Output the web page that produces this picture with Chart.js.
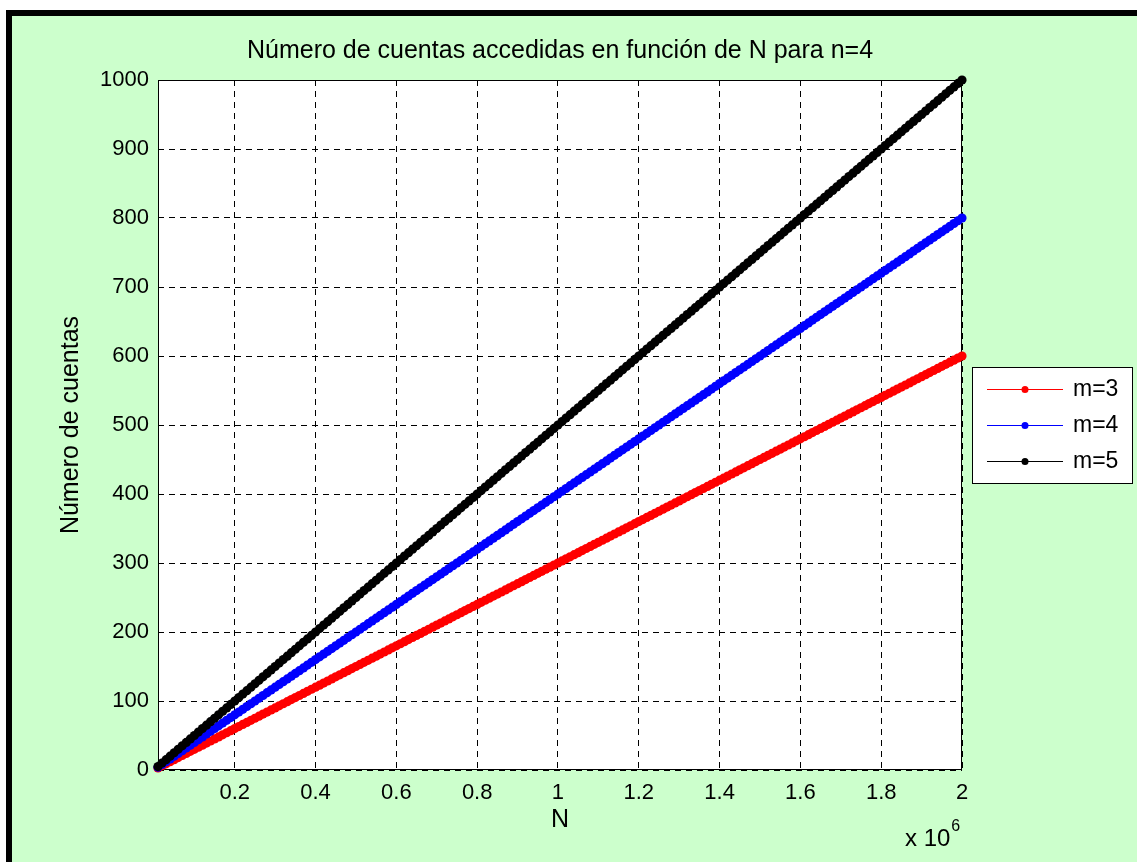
<!DOCTYPE html>
<html>
<head>
<meta charset="utf-8">
<script src="https://cdn.jsdelivr.net/npm/chart.js@4/dist/chart.umd.min.js"></script>
<style>
  html, body { margin: 0; padding: 0; background: #fff; }
  #wrap { position: absolute; left: 0; top: 0; width: 1137px; height: 862px; }
</style>
</head>
<body>
<div id="wrap"><canvas id="c" width="1137" height="862"></canvas></div>
<script>
// N in millions (axis carries the "x 10^6" multiplier)
const nValues = [
  0.01,0.02,0.03,0.04,0.05,0.06,0.07,0.08,0.09,0.10,0.11,0.12,0.13,0.14,0.15,0.16,0.17,0.18,0.19,0.20,
  0.21,0.22,0.23,0.24,0.25,0.26,0.27,0.28,0.29,0.30,0.31,0.32,0.33,0.34,0.35,0.36,0.37,0.38,0.39,0.40,
  0.41,0.42,0.43,0.44,0.45,0.46,0.47,0.48,0.49,0.50,0.51,0.52,0.53,0.54,0.55,0.56,0.57,0.58,0.59,0.60,
  0.61,0.62,0.63,0.64,0.65,0.66,0.67,0.68,0.69,0.70,0.71,0.72,0.73,0.74,0.75,0.76,0.77,0.78,0.79,0.80,
  0.81,0.82,0.83,0.84,0.85,0.86,0.87,0.88,0.89,0.90,0.91,0.92,0.93,0.94,0.95,0.96,0.97,0.98,0.99,1.00,
  1.01,1.02,1.03,1.04,1.05,1.06,1.07,1.08,1.09,1.10,1.11,1.12,1.13,1.14,1.15,1.16,1.17,1.18,1.19,1.20,
  1.21,1.22,1.23,1.24,1.25,1.26,1.27,1.28,1.29,1.30,1.31,1.32,1.33,1.34,1.35,1.36,1.37,1.38,1.39,1.40,
  1.41,1.42,1.43,1.44,1.45,1.46,1.47,1.48,1.49,1.50,1.51,1.52,1.53,1.54,1.55,1.56,1.57,1.58,1.59,1.60,
  1.61,1.62,1.63,1.64,1.65,1.66,1.67,1.68,1.69,1.70,1.71,1.72,1.73,1.74,1.75,1.76,1.77,1.78,1.79,1.80,
  1.81,1.82,1.83,1.84,1.85,1.86,1.87,1.88,1.89,1.90,1.91,1.92,1.93,1.94,1.95,1.96,1.97,1.98,1.99,2.00
];

const cuentasM3 = [
  3,6,9,12,15,18,21,24,27,30,33,36,39,42,45,48,51,54,57,60,
  63,66,69,72,75,78,81,84,87,90,93,96,99,102,105,108,111,114,117,120,
  123,126,129,132,135,138,141,144,147,150,153,156,159,162,165,168,171,174,177,180,
  183,186,189,192,195,198,201,204,207,210,213,216,219,222,225,228,231,234,237,240,
  243,246,249,252,255,258,261,264,267,270,273,276,279,282,285,288,291,294,297,300,
  303,306,309,312,315,318,321,324,327,330,333,336,339,342,345,348,351,354,357,360,
  363,366,369,372,375,378,381,384,387,390,393,396,399,402,405,408,411,414,417,420,
  423,426,429,432,435,438,441,444,447,450,453,456,459,462,465,468,471,474,477,480,
  483,486,489,492,495,498,501,504,507,510,513,516,519,522,525,528,531,534,537,540,
  543,546,549,552,555,558,561,564,567,570,573,576,579,582,585,588,591,594,597,600
];

const cuentasM4 = [
  4,8,12,16,20,24,28,32,36,40,44,48,52,56,60,64,68,72,76,80,
  84,88,92,96,100,104,108,112,116,120,124,128,132,136,140,144,148,152,156,160,
  164,168,172,176,180,184,188,192,196,200,204,208,212,216,220,224,228,232,236,240,
  244,248,252,256,260,264,268,272,276,280,284,288,292,296,300,304,308,312,316,320,
  324,328,332,336,340,344,348,352,356,360,364,368,372,376,380,384,388,392,396,400,
  404,408,412,416,420,424,428,432,436,440,444,448,452,456,460,464,468,472,476,480,
  484,488,492,496,500,504,508,512,516,520,524,528,532,536,540,544,548,552,556,560,
  564,568,572,576,580,584,588,592,596,600,604,608,612,616,620,624,628,632,636,640,
  644,648,652,656,660,664,668,672,676,680,684,688,692,696,700,704,708,712,716,720,
  724,728,732,736,740,744,748,752,756,760,764,768,772,776,780,784,788,792,796,800
];

const cuentasM5 = [
  5,10,15,20,25,30,35,40,45,50,55,60,65,70,75,80,85,90,95,100,
  105,110,115,120,125,130,135,140,145,150,155,160,165,170,175,180,185,190,195,200,
  205,210,215,220,225,230,235,240,245,250,255,260,265,270,275,280,285,290,295,300,
  305,310,315,320,325,330,335,340,345,350,355,360,365,370,375,380,385,390,395,400,
  405,410,415,420,425,430,435,440,445,450,455,460,465,470,475,480,485,490,495,500,
  505,510,515,520,525,530,535,540,545,550,555,560,565,570,575,580,585,590,595,600,
  605,610,615,620,625,630,635,640,645,650,655,660,665,670,675,680,685,690,695,700,
  705,710,715,720,725,730,735,740,745,750,755,760,765,770,775,780,785,790,795,800,
  805,810,815,820,825,830,835,840,845,850,855,860,865,870,875,880,885,890,895,900,
  905,910,915,920,925,930,935,940,945,950,955,960,965,970,975,980,985,990,995,1000
];

const xTickValues = [0.2, 0.4, 0.6, 0.8, 1, 1.2, 1.4, 1.6, 1.8, 2];
const yTickValues = [0, 100, 200, 300, 400, 500, 600, 700, 800, 900, 1000];
const seriesNames = ['m=3', 'm=4', 'm=5'];
const seriesColors = ['#ff0000', '#0000ff', '#000000'];

const FONT = '"Liberation Sans", Arial, Helvetica, sans-serif';
const BG = '#ccffcc';

function pts(ys) { return nValues.map((x, i) => ({ x: x, y: ys[i] })); }

function makeSet(idx, ys, order) {
  return {
    label: seriesNames[idx],
    data: pts(ys),
    borderColor: seriesColors[idx],
    backgroundColor: seriesColors[idx],
    pointBackgroundColor: seriesColors[idx],
    pointBorderWidth: 0,
    pointRadius: 4.6,
    pointHoverRadius: 4.6,
    borderWidth: 2,
    tension: 0,
    order: order,
    clip: false
  };
}

const framePlugin = {
  id: 'frame',
  beforeDraw(chart) {
    const ctx = chart.ctx;
    ctx.save();
    ctx.fillStyle = '#ffffff';
    ctx.fillRect(0, 0, chart.width, chart.height);
    ctx.fillStyle = '#000000';
    ctx.fillRect(6, 10, chart.width - 6, chart.height - 10);
    ctx.fillStyle = BG;
    ctx.fillRect(12, 16, chart.width - 12, chart.height - 16);
    const a = chart.chartArea;
    ctx.fillStyle = '#ffffff';
    ctx.fillRect(a.left, a.top, a.right - a.left, a.bottom - a.top);
    ctx.restore();
  },
  beforeDatasetsDraw(chart) {
    const ctx = chart.ctx, a = chart.chartArea;
    ctx.save();
    ctx.strokeStyle = '#000';
    ctx.lineWidth = 1;
    ctx.strokeRect(Math.round(a.left) + 0.5, Math.round(a.top) + 0.5,
                   Math.round(a.right - a.left) - 1, Math.round(a.bottom - a.top) - 1);
    ctx.restore();
  },
  afterDraw(chart) {
    const ctx = chart.ctx, a = chart.chartArea;
    ctx.save();
    ctx.fillStyle = '#000';
    // title
    ctx.font = '25px ' + FONT;
    ctx.textAlign = 'center';
    ctx.textBaseline = 'alphabetic';
    ctx.fillText('Número de cuentas accedidas en función de N para n=4', (a.left + a.right) / 2, 58);
    // x label
    ctx.fillText('N', (a.left + a.right) / 2, 827);
    // y label
    ctx.save();
    ctx.translate(78, (a.top + a.bottom) / 2);
    ctx.rotate(-Math.PI / 2);
    ctx.fillText('Número de cuentas', 0, 0);
    ctx.restore();
    // exponent
    ctx.textAlign = 'left';
    ctx.font = '24px ' + FONT;
    const base = 'x 10';
    ctx.fillText(base, 905, 846);
    const bw = ctx.measureText(base).width;
    ctx.font = '16px ' + FONT;
    ctx.fillText('6', 905 + bw + 1, 831);

    // legend
    const lx = 972, ly = 367, lw = 161, lh = 117;
    ctx.fillStyle = '#ffffff';
    ctx.fillRect(lx, ly, lw, lh);
    ctx.strokeStyle = '#000';
    ctx.lineWidth = 1;
    ctx.strokeRect(lx + 0.5, ly + 0.5, lw - 1, lh - 1);
    const rows = [389, 425, 461];
    ctx.font = '23px ' + FONT;
    ctx.textBaseline = 'middle';
    chart.data.datasets.forEach((ds, i) => {
      const y = rows[i];
      ctx.strokeStyle = ds.borderColor;
      ctx.lineWidth = 1;
      ctx.beginPath();
      ctx.moveTo(987, y + 0.5);
      ctx.lineTo(1063, y + 0.5);
      ctx.stroke();
      ctx.fillStyle = ds.borderColor;
      ctx.beginPath();
      ctx.arc(1025, y + 0.5, 3.5, 0, Math.PI * 2);
      ctx.fill();
      ctx.fillStyle = '#000';
      ctx.fillText(ds.label, 1073, y + 1);
    });
    ctx.restore();
  }
};

new Chart(document.getElementById('c'), {
  type: 'line',
  data: {
    datasets: [
      makeSet(0, cuentasM3, 2),
      makeSet(1, cuentasM4, 1),
      makeSet(2, cuentasM5, 0)
    ]
  },
  options: {
    responsive: false,
    animation: false,
    devicePixelRatio: 1,
    layout: { padding: { top: 80, right: 175, bottom: 0, left: 0 } },
    plugins: { legend: { display: false }, title: { display: false }, tooltip: { enabled: false } },
    scales: {
      x: {
        type: 'linear',
        min: 0.01,
        max: 2,
        afterFit(s) { s.height = 92; },
        afterBuildTicks(s) { s.ticks = xTickValues.map(v => ({ value: v })); },
        grid: {
          color: '#000',
          lineWidth: 1,
          drawTicks: false,
          tickLength: 0
        },
        border: { display: false, dash: [6, 5] },
        ticks: {
          color: '#000',
          font: { family: FONT, size: 22 },
          padding: 10,
          maxRotation: 0,
          autoSkip: false,
          callback: v => String(v)
        }
      },
      y: {
        type: 'linear',
        min: 0,
        max: 1000,
        afterFit(s) { s.width = 158; },
        afterBuildTicks(s) { s.ticks = yTickValues.map(v => ({ value: v })); },
        grid: {
          color: '#000',
          lineWidth: 1,
          drawTicks: false,
          tickLength: 0
        },
        border: { display: false, dash: [6, 5] },
        ticks: {
          color: '#000',
          font: { family: FONT, size: 22 },
          padding: 9,
          autoSkip: false,
          callback: v => String(v)
        }
      }
    }
  },
  plugins: [framePlugin]
});
</script>
</body>
</html>
